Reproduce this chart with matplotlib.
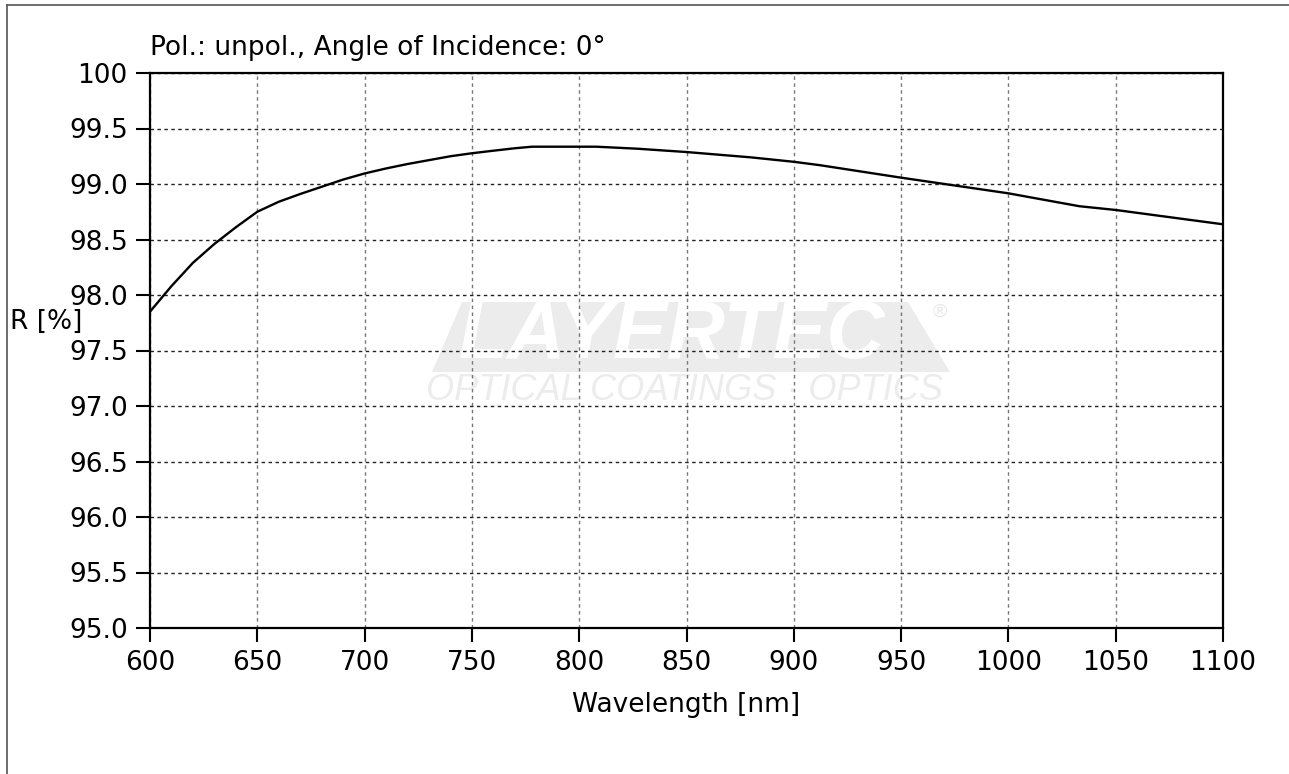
import matplotlib
matplotlib.use("Agg")
import matplotlib.pyplot as plt
from matplotlib.patches import Polygon
from matplotlib.lines import Line2D

plt.rcParams['font.family'] = ['DejaVu Sans']

# Data
wavelength = [600, 610, 620, 630, 640, 650, 660, 670, 680, 690, 700, 710, 720,
              730, 740, 750, 760, 770, 778, 808, 827, 850, 880, 900, 912, 950,
              1000, 1033, 1050, 1100]
reflectance = [97.85, 98.08, 98.29, 98.46, 98.61, 98.75, 98.84, 98.91, 98.975,
               99.04, 99.095, 99.14, 99.18, 99.215, 99.25, 99.277, 99.30, 99.322,
               99.336, 99.336, 99.318, 99.288, 99.24, 99.20, 99.17, 99.057,
               98.916, 98.80, 98.766, 98.637]

x_ticks = [600, 650, 700, 750, 800, 850, 900, 950, 1000, 1050, 1100]
y_ticks = [95.0, 95.5, 96.0, 96.5, 97.0, 97.5, 98.0, 98.5, 99.0, 99.5, 100.0]
y_tick_labels = ["95.0", "95.5", "96.0", "96.5", "97.0", "97.5", "98.0",
                 "98.5", "99.0", "99.5", "100"]
x_tick_labels = [str(v) for v in x_ticks]

title_text = "Pol.: unpol., Angle of Incidence: 0°"
x_label = "Wavelength [nm]"
y_label = "R [%]"

W, H = 1289, 774
fig = plt.figure(figsize=(W / 100, H / 100), dpi=100)
ax = fig.add_axes([150 / W, 1 - 628 / H, (1223 - 150) / W, (628 - 73) / H])

ax.set_xlim(600, 1100)
ax.set_ylim(95.0, 100.0)
ax.set_xticks(x_ticks)
ax.set_xticklabels(x_tick_labels)
ax.set_yticks(y_ticks)
ax.set_yticklabels(y_tick_labels)

fs = 19
ax.tick_params(axis='both', direction='out', length=10, width=1.5,
               labelsize=fs, colors='black', pad=6)

for s in ax.spines.values():
    s.set_linewidth(1.6)
    s.set_color('black')

ax.set_axisbelow(True)
ax.xaxis.grid(True, color='#777777', linestyle=(0, (2.5, 2.5)), linewidth=1.0)
ax.yaxis.grid(True, color='#222222', linestyle=(0, (2.5, 2.5)), linewidth=1.0)

# Watermark logo (faint)
def px(x, y):
    return ((x - 150) / (1223 - 150), (628 - y) / (628 - 73))

poly = Polygon([px(432, 372), px(462, 302), px(908, 302), px(950, 372)],
               closed=True, transform=ax.transAxes, facecolor='#ececec',
               edgecolor='none', zorder=0.1)
ax.add_patch(poly)
tx, ty = px(672, 337)
ax.text(tx, ty, "LAYERTEC", transform=ax.transAxes, ha='center', va='center',
        fontsize=58, fontweight='bold', fontstyle='italic', color='white',
        family='Liberation Sans', zorder=0.2)
rx, ry = px(940, 312)
ax.text(rx, ry, "®", transform=ax.transAxes, ha='center', va='center',
        fontsize=14, color='#e6e6e6', family='Liberation Sans', zorder=0.2)
sx, sy = px(685, 391)
ax.text(sx, sy, "OPTICAL COATINGS · OPTICS", transform=ax.transAxes,
        ha='center', va='center', fontsize=26, fontstyle='italic',
        color='#ececec', family='Liberation Sans', zorder=0.2)

ax.plot(wavelength, reflectance, color='black', linewidth=1.7, zorder=3)

ax.text(0, 1 + 25 / 555, title_text, transform=ax.transAxes, ha='left',
        va='center', fontsize=fs, color='black')
fig.text(686 / W, 1 - 705 / H, x_label, ha='center', va='center',
         fontsize=fs, color='black')
fig.text(10 / W, 1 - 322 / H, y_label, ha='left', va='center',
         fontsize=fs, color='black')

# outer frame lines (top and left)
fig.add_artist(Line2D([7 / W, 1.0], [1 - 5 / H, 1 - 5 / H], transform=fig.transFigure,
                      color='#555555', linewidth=1.2))
fig.add_artist(Line2D([7 / W, 7 / W], [1 - 5 / H, 0], transform=fig.transFigure,
                      color='#555555', linewidth=1.2))

fig.savefig("out.png", dpi=100)
